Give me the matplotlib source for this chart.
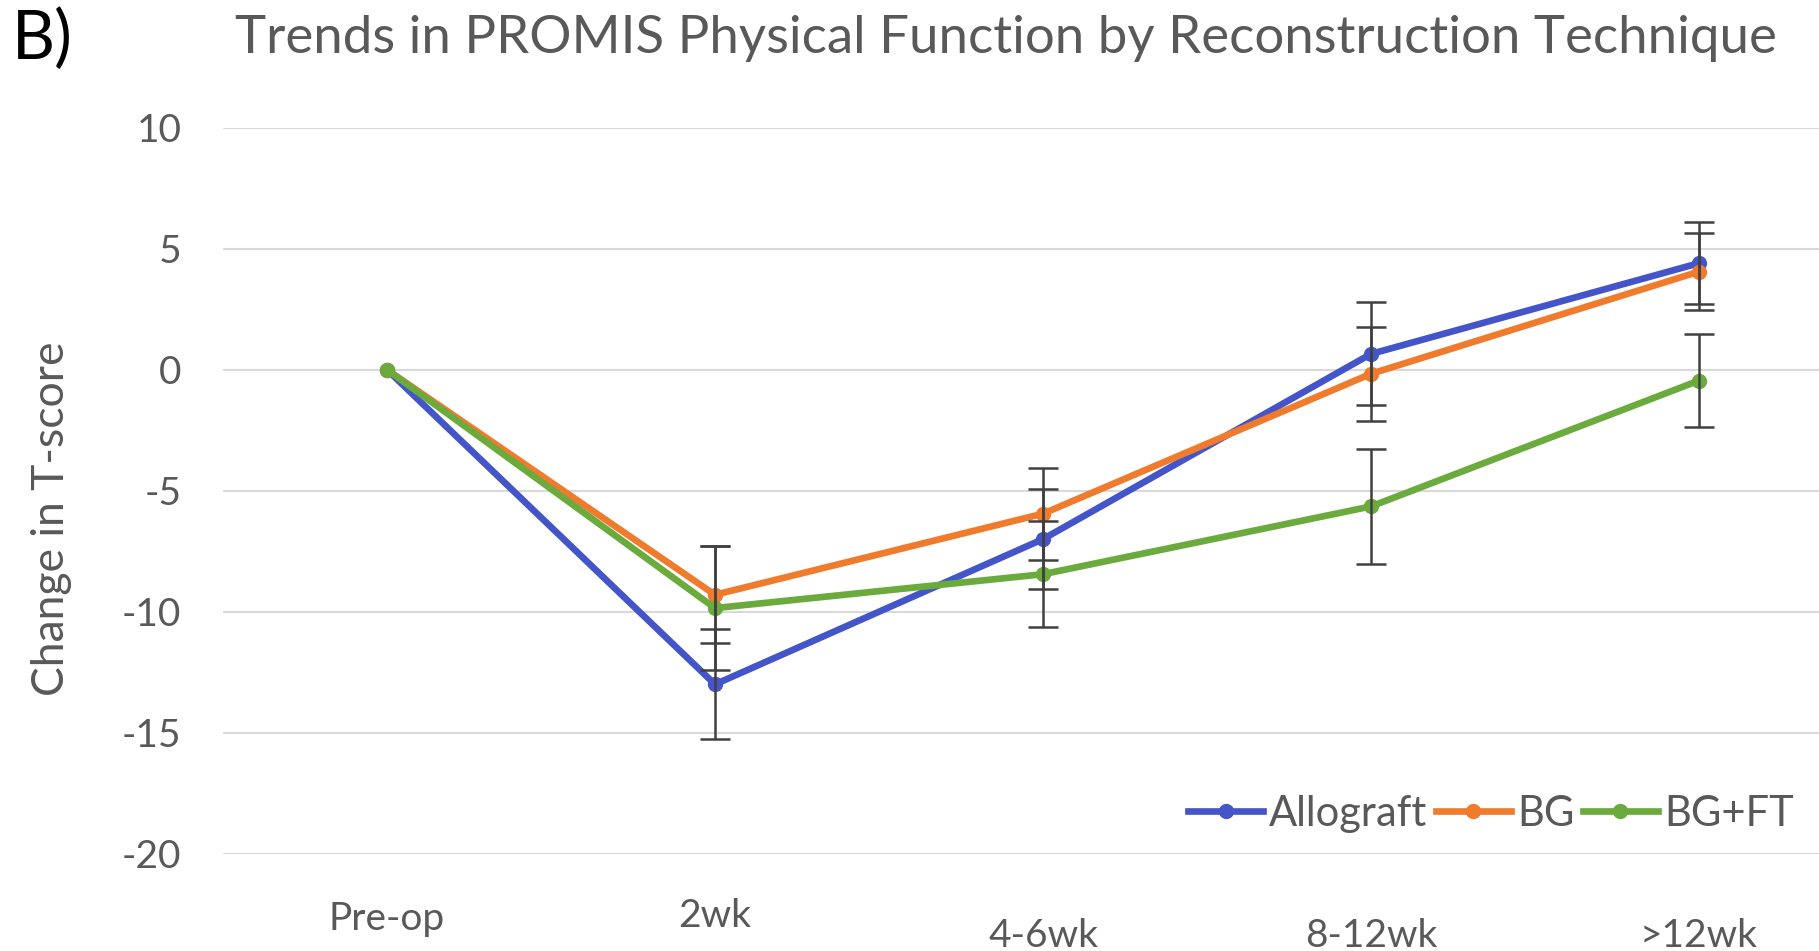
import numpy as np
import matplotlib
matplotlib.use("Agg")
from matplotlib import pyplot as plt

plt.rcParams['font.family'] = ['Lato', 'DejaVu Sans']

categories = ['Pre-op', '2wk', '4-6wk', '8-12wk', '>12wk']
allograft = [0, -13.0, -7.0, 0.65, 4.4]
allograft_err = [0, 2.27, 2.05, 2.13, 1.7]
bg = [0, -9.3, -5.95, -0.17, 4.05]
bg_err = [0, 2.0, 1.9, 1.94, 1.6]
bgft = [0, -9.85, -8.45, -5.65, -0.45]
bgft_err = [0, 2.55, 2.2, 2.38, 1.93]
yticks = [10, 5, 0, -5, -10, -15, -20]

series = [
    ('Allograft', allograft, allograft_err, '#4355C9'),
    ('BG', bg, bg_err, '#F07B2C'),
    ('BG+FT', bgft, bgft_err, '#6BAA3C'),
]

fig = plt.figure(figsize=(18.19, 9.51), dpi=100)
ax = fig.add_axes([223 / 1819, 1 - 853.8 / 951, (1863 - 223) / 1819, (853.8 - 127.6) / 951])

x = np.arange(len(categories))
handles = []
for name, vals, err, col in series:
    h, = ax.plot(x, vals, color=col, lw=4.8, marker='o', ms=10, label=name, zorder=3)
    handles.append(h)
for name, vals, err, col in series:
    ax.errorbar(x[1:], vals[1:], yerr=err[1:], fmt='none', ecolor='#404040',
                elinewidth=1.8, capsize=11, capthick=1.8, zorder=4)

ax.set_xlim(-0.5, len(categories) - 0.5)
ax.set_ylim(-20, 10)
ax.set_yticks(yticks)
ax.set_yticklabels([str(t) for t in yticks])
ax.set_xticks(x)
ax.set_xticklabels(categories)
ax.grid(axis='y', color='#D9D9D9', lw=1.5)
ax.set_axisbelow(True)
for s in ax.spines.values():
    s.set_visible(False)
ax.tick_params(axis='both', length=0, labelcolor='#595959', labelsize=28)
ax.tick_params(axis='y', pad=30)
# labels sit at slightly different heights in the original
pads = [34, 32, 46, 46, 46]
for t, p in zip(ax.xaxis.get_major_ticks(), pads):
    t.set_pad(p)

fig.text(52 / 1819, 1 - 519 / 951, 'Change in T-score', rotation=90, ha='center', va='center',
         fontsize=32, color='#595959')
fig.text(0.553, 1 - 38 / 951, 'Trends in PROMIS Physical Function by Reconstruction Technique',
         ha='center', va='center', fontsize=38, color='#595959')
fig.text(12 / 1819, 1 - 40 / 951, 'B)', ha='left', va='center', fontsize=48, color='black')

fig.legend(handles=handles, loc='center left', bbox_to_anchor=(1188 / 1819, 1 - 814 / 951),
           ncol=3, frameon=False, fontsize=30, handlelength=1.8, columnspacing=0.2,
           handletextpad=0.15, labelcolor='#595959', borderaxespad=0, borderpad=0)

fig.savefig('out.png', dpi=100)
